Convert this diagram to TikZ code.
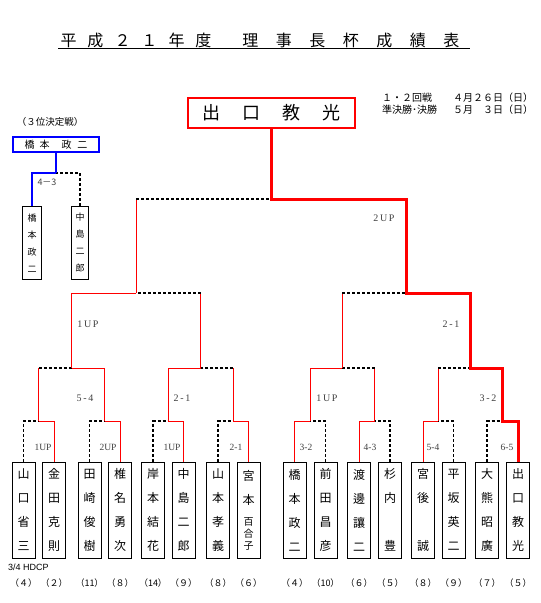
\documentclass[tikz,border=0pt]{standalone}
\usepackage{fontspec}
\setmainfont{Liberation Serif}
\newfontfamily\jp{Noto Sans CJK JP}
\newfontfamily\lsans{Liberation Sans}
\tikzset{
  win/.style={red, line width=1pt},
  champ/.style={red, line width=3pt},
  lose/.style={black, line width=1.1pt, dash pattern=on 3pt off 2pt},
  pbox/.style={draw, line width=1pt, minimum width=23pt, minimum height=96pt, inner sep=0pt, align=center, font=\jp\fontsize{12}{24}\selectfont},
  sbox/.style={draw, line width=1pt, minimum height=73pt, inner sep=0pt, align=center, font=\jp\fontsize{9}{17}\selectfont},
  score/.style={text=black!75, inner sep=0pt, font=\fontsize{9.5}{9.5}\selectfont},
  bscore/.style={text=black!75, inner sep=0pt, font=\fontsize{10}{10}\selectfont},
  hcp/.style={inner sep=0pt, font=\jp\fontsize{9}{9}\selectfont},
  info/.style={inner sep=0pt, anchor=west, font=\jp\fontsize{10}{10}\selectfont},
}
\begin{document}
\begin{tikzpicture}[x=1pt,y=-1pt]
\useasboundingbox (0,0) rectangle (541,603);
% title
\node[inner sep=0pt, font=\jp\fontsize{16}{16}\selectfont] (title) at (260,40)
 {平\hspace{11pt}成\hspace{11pt}２\hspace{11pt}１\hspace{11pt}年\hspace{11pt}度\hspace{31pt}理\hspace{17.5pt}事\hspace{17.5pt}長\hspace{17.5pt}杯\hspace{17.5pt}成\hspace{17.5pt}績\hspace{17.5pt}表};
\coordinate (ul1) at (58,48);
\coordinate (ul2) at (470,48);
\draw[line width=1pt] (ul1) -- (ul2);
% dates
\node[info] (d1) at (382,98) {１・２回戦};
\node[info] (d2) at (453,98) {４月２６日（日）};
\node[info] (d3) at (382,110) {準決勝･決勝};
\node[info] (d4) at (453,110) {５月　３日（日）};
% champion
\node[draw=red, line width=2pt, minimum width=167pt, minimum height=30pt, inner sep=0pt, font=\jp\fontsize{18}{18}\selectfont] (champion) at (271.2,113)
 {出\hspace{22pt}口\hspace{22pt}教\hspace{22pt}光};
% third place
\node[hcp, font=\jp\fontsize{9.5}{9.5}\selectfont] (tptitle) at (50,122) {（３位決定戦）};
\node[draw=blue, line width=1.4pt, minimum width=86pt, minimum height=15pt, inner sep=0pt, font=\jp\fontsize{10}{10}\selectfont] (tp) at (56,144.5)
 {橋\hspace{5pt}本\hspace{12pt}政\hspace{6pt}二};
\node[sbox, minimum width=19pt] (t1) at (32,243) {橋\\本\\政\\二};
\node[sbox, minimum width=17pt] (t2) at (80,243) {中\\島\\二\\郎};
\coordinate (tm) at (56,173);
\draw[lose] (t2.north) |- (tm);
\draw[blue, line width=1.3pt] (tp.south) -- (tm);
\draw[blue, line width=2.2pt] (t1.north) |- (tm);
\node[score, font=\jp\fontsize{9}{9}\selectfont] (ts) at (47,182) {4－3};
% players
\node[pbox] (p1) at (23.5,510) {山\\口\\省\\三};
\node[pbox] (p2) at (54,510) {金\\田\\克\\則};
\node[pbox] (p3) at (89.5,510) {田\\崎\\俊\\樹};
\node[pbox] (p4) at (120,510) {椎\\名\\勇\\次};
\node[pbox] (p5) at (153,510) {岸\\本\\結\\花};
\node[pbox] (p6) at (183.5,510) {中\\島\\二\\郎};
\node[pbox] (p7) at (218,510) {山\\本\\孝\\義};
\node[pbox] (p8) at (248.5,510) {宮\\本\\[21pt]\smash{\fontsize{10}{10}\selectfont\shortstack{百\\合\\子}}};
\node[pbox] (p9) at (294.5,510) {橋\\本\\政\\二};
\node[pbox] (p10) at (325.5,510) {前\\田\\昌\\彦};
\node[pbox] (p11) at (359,510) {渡\\邊\\讓\\二};
\node[pbox] (p12) at (390,510) {杉\\内\\\mbox{}\\豊};
\node[pbox] (p13) at (423,510) {宮\\後\\\mbox{}\\誠};
\node[pbox] (p14) at (453.5,510) {平\\坂\\英\\二};
\node[pbox] (p15) at (487,510) {大\\熊\\昭\\廣};
\node[pbox] (p16) at (518,510) {出\\口\\教\\光};
% handicaps
\node[inner sep=0pt, anchor=west, font=\lsans\fontsize{9}{9}\selectfont] (hd) at (8,567) {3/4 HDCP};
\node[hcp] (n1) at (23.5,583) {（４）};
\node[hcp] (n2) at (54,583) {（２）};
\node[hcp] (n3) at (89.5,583) {（11）};
\node[hcp] (n4) at (120,583) {（８）};
\node[hcp] (n5) at (153,583) {（14）};
\node[hcp] (n6) at (183.5,583) {（９）};
\node[hcp] (n7) at (218,583) {（８）};
\node[hcp] (n8) at (248.5,583) {（６）};
\node[hcp] (n9) at (294.5,583) {（４）};
\node[hcp] (n10) at (325.5,583) {（10）};
\node[hcp] (n11) at (359,583) {（６）};
\node[hcp] (n12) at (390,583) {（５）};
\node[hcp] (n13) at (423,583) {（８）};
\node[hcp] (n14) at (453.5,583) {（９）};
\node[hcp] (n15) at (487,583) {（７）};
\node[hcp] (n16) at (518,583) {（５）};
% junctions
\coordinate (m1) at (38.75,421);
\coordinate (m2) at (104.75,421);
\coordinate (m3) at (168.25,421);
\coordinate (m4) at (233.25,421);
\coordinate (m5) at (310,421);
\coordinate (m6) at (374.5,421);
\coordinate (m7) at (438.25,421);
\coordinate (m8) at (502.5,421);
\coordinate (q1) at (71.75,368);
\coordinate (q2) at (200.75,368);
\coordinate (q3) at (342.25,368);
\coordinate (q4) at (470.4,368);
\coordinate (s1) at (136.25,293);
\coordinate (s2) at (406.3,293);
\coordinate (f) at (271.2,199);
% round 1
\draw[lose] (p1.north) |- (m1);  \draw[win] (p2.north) |- (m1);
\draw[lose] (p3.north) |- (m2);  \draw[win] (p4.north) |- (m2);
\draw[lose] (p5.north) |- (m3);  \draw[win] (p6.north) |- (m3);
\draw[lose] (p7.north) |- (m4);  \draw[win] (p8.north) |- (m4);
\draw[win] (p9.north) |- (m5);   \draw[lose] (p10.north) |- (m5);
\draw[win] (p11.north) |- (m6);  \draw[lose] (p12.north) |- (m6);
\draw[win] (p13.north) |- (m7);  \draw[lose] (p14.north) |- (m7);
\draw[lose] (p15.north) |- (m8);
% quarter finals
\draw[win] (m1) -- (m1 |- q1); \draw[lose] (m1 |- q1) -- (q1);
\draw[win] (m2) |- (q1);
\draw[win] (m3) |- (q2);
\draw[win] (m4) -- (m4 |- q2); \draw[lose] (m4 |- q2) -- (q2);
\draw[win] (m5) |- (q3);
\draw[win] (m6) -- (m6 |- q3); \draw[lose] (m6 |- q3) -- (q3);
\draw[win] (m7) -- (m7 |- q4); \draw[lose] (m7 |- q4) -- (q4);
% semi finals
\draw[win] (q1) |- (s1);
\draw[win] (q2) -- (q2 |- s1); \draw[lose] (q2 |- s1) -- (s1);
\draw[win] (q3) -- (q3 |- s2); \draw[lose] (q3 |- s2) -- (s2);
% final
\draw[win] (s1) -- (s1 |- f); \draw[lose] (s1 |- f) -- (f);
% champion path
\draw[champ] (p16.north) |- (m8) |- (q4) |- (s2) |- (f) -- (champion.south);
% scores
\node[score] (r1) at (43,447) {1UP};
\node[score] (r2) at (108,447) {2UP};
\node[score] (r3) at (172,447) {1UP};
\node[score] (r4) at (236,447) {2-1};
\node[score] (r5) at (306,447) {3-2};
\node[score] (r6) at (370,447) {4-3};
\node[score] (r7) at (433,447) {5-4};
\node[score] (r8) at (507,447) {6-5};
\node[bscore] (k1) at (85,398) {5\,-\,4};
\node[bscore] (k2) at (182,398) {2\,-\,1};
\node[bscore] (k3) at (327,398) {1\,U\,P};
\node[bscore] (k4) at (488,398) {3\,-\,2};
\node[bscore] (k5) at (88,324) {1\,U\,P};
\node[bscore] (k6) at (451,324) {2\,-\,1};
\node[bscore] (k7) at (384,218) {2\,U\,P};
\end{tikzpicture}
\end{document}
